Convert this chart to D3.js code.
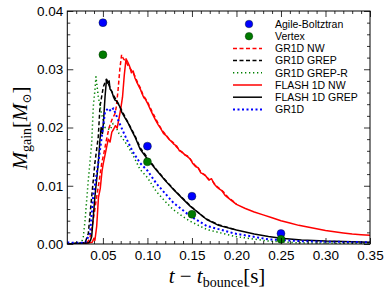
<!DOCTYPE html>
<html>
<head>
<meta charset="utf-8">
<script src="https://cdn.jsdelivr.net/npm/d3@7"></script>
<style>
  body { margin: 0; background: #fff; }
  svg { display: block; }
  .tick text { font-family: "Liberation Sans", Arial, sans-serif; font-size: 13.5px; fill: #000; }
  .leg text { font-family: "Liberation Sans", Arial, sans-serif; font-size: 10.5px; fill: #000; }
  .title { font-family: "Liberation Serif", "DejaVu Serif", serif; fill: #000; }
</style>
</head>
<body>
<figure id="chart" style="margin:0"></figure>
<script>
// t - t_bounce [s], M_gain [M_sun]
const agilePoints = [[0.05, 0.0380], [0.10, 0.0168], [0.15, 0.0082], [0.25, 0.0018]];
const vertexPoints = [[0.05, 0.0325], [0.10, 0.0141], [0.15, 0.0051], [0.25, 0.0008]];

const gr1dNW = [[0.010,0.0000],[0.032,0.0002],[0.035,0.0008],[0.0374,0.0024],[0.040,0.0050],[0.043,0.0081],
  [0.046,0.0110],[0.0487,0.0139],[0.051,0.0155],[0.054,0.0179],[0.057,0.0200],[0.060,0.0213],[0.0636,0.0224],
  [0.065,0.0235],[0.067,0.0264],[0.069,0.0300],[0.071,0.0325],[0.073,0.0318],[0.076,0.0313],[0.078,0.0307],
  [0.080,0.0303],[0.083,0.0296],[0.086,0.0288],[0.089,0.0277],[0.092,0.0268],[0.095,0.0256],[0.098,0.0249],
  [0.101,0.0241],[0.105,0.0228],[0.109,0.0216],[0.113,0.0204],[0.117,0.0194],[0.121,0.0187],[0.125,0.0179],
  [0.129,0.0174],[0.133,0.0166],[0.137,0.0160],[0.141,0.0154],[0.145,0.0151],[0.149,0.0144],[0.153,0.0136],
  [0.157,0.0130],[0.161,0.0122],[0.165,0.0118],[0.169,0.0111],[0.173,0.0108],[0.177,0.0100],[0.181,0.0095],
  [0.185,0.0090],[0.190,0.0081],[0.195,0.0075],[0.200,0.0069]];

const gr1dGREP = [[0.010,0.0000],[0.030,0.0002],[0.0336,0.0018],[0.0374,0.0081],[0.041,0.0139],[0.0448,0.0184],
  [0.0467,0.0236],[0.0505,0.0270],[0.054,0.0283],[0.056,0.0276],[0.058,0.0268],[0.062,0.0255],[0.067,0.0242],
  [0.075,0.0218],[0.086,0.0186],[0.092,0.0165],[0.100,0.0148],[0.110,0.0128],[0.120,0.0110],[0.130,0.0093],
  [0.140,0.0078],[0.150,0.0063],[0.165,0.0044],[0.180,0.0033],[0.200,0.0024]];

const gr1dGREPR = [[0.010,0.0001],[0.026,0.0002],[0.028,0.0013],[0.030,0.0041],[0.0336,0.0110],[0.0374,0.0173],
  [0.0392,0.0236],[0.041,0.0264],[0.0422,0.0287],[0.0448,0.0253],[0.0487,0.0222],[0.0524,0.0200],[0.058,0.0196],
  [0.0615,0.0207],[0.064,0.0203],[0.068,0.0190],[0.075,0.0175],[0.083,0.0155],[0.0917,0.0128],[0.100,0.0114],
  [0.110,0.0090],[0.120,0.0073],[0.129,0.0059],[0.140,0.0047],[0.148,0.0039],[0.1666,0.0025],[0.198,0.0013],
  [0.236,0.0005],[0.270,0.0002],[0.350,0.0001]];

const flashNW = [[0.010,0.0000],[0.030,0.0001],[0.038,0.0003],[0.040,0.0010],[0.041,0.0006],[0.043,0.0030],
  [0.045,0.0080],[0.047,0.0095],[0.049,0.0125],[0.0505,0.0139],[0.052,0.0150],[0.054,0.0165],[0.056,0.0180],
  [0.058,0.0175],[0.060,0.0192],[0.062,0.0197],[0.064,0.0203],[0.066,0.0199],[0.068,0.0215],[0.070,0.0232],
  [0.072,0.0252],[0.074,0.0290],[0.076,0.0318],[0.078,0.0312],[0.080,0.0305],[0.082,0.0294],[0.084,0.0297],
  [0.086,0.0285],[0.088,0.0278],[0.090,0.0272],[0.092,0.0266],[0.094,0.0258],[0.096,0.0251],[0.098,0.0248],
  [0.100,0.0242],[0.103,0.0232],[0.106,0.0222],[0.109,0.0213],[0.112,0.0205],[0.115,0.0198],[0.118,0.0190],
  [0.121,0.0186],[0.124,0.0180],[0.127,0.0176],[0.130,0.0171],[0.133,0.0168],[0.136,0.0160],[0.139,0.0158],
  [0.142,0.0153],[0.145,0.0150],[0.148,0.0146],[0.151,0.0138],[0.154,0.0133],[0.157,0.0131],[0.160,0.0122],
  [0.163,0.0120],[0.166,0.0116],[0.169,0.0110],[0.172,0.0112],[0.175,0.0103],[0.178,0.0098],[0.181,0.0094],
  [0.184,0.0091],[0.187,0.0084],[0.190,0.0080],[0.195,0.0074],[0.200,0.0068],[0.210,0.0061],[0.220,0.0055],
  [0.230,0.0050],[0.240,0.0045],[0.250,0.0040],[0.260,0.0036],[0.270,0.0032],[0.280,0.0029],[0.290,0.0026],
  [0.300,0.0023],[0.310,0.0021],[0.320,0.0019],[0.330,0.0017],[0.340,0.0016],[0.350,0.0015]];

const flashGREP = [[0.010,0.0000],[0.034,0.0002],[0.036,0.0006],[0.0374,0.0013],[0.041,0.0081],[0.0448,0.0139],
  [0.0467,0.0179],[0.048,0.0200],[0.0495,0.0190],[0.0505,0.0207],[0.0524,0.0253],[0.054,0.0282],[0.0555,0.0276],
  [0.057,0.0280],[0.058,0.0266],[0.060,0.0262],[0.062,0.0252],[0.0636,0.0247],[0.065,0.0246],[0.067,0.0241],
  [0.069,0.0236],[0.071,0.0227],[0.075,0.0216],[0.0785,0.0207],[0.082,0.0196],[0.086,0.0184],[0.0917,0.0163],
  [0.100,0.0146],[0.110,0.0127],[0.120,0.0109],[0.129,0.0094],[0.140,0.0077],[0.148,0.0065],[0.1666,0.0042],
  [0.180,0.0032],[0.200,0.0024],[0.220,0.0017],[0.236,0.0013],[0.250,0.0010],[0.273,0.0007],[0.300,0.0005],
  [0.350,0.0003]];

const gr1d = [[0.010,0.0003],[0.013,0.0002],[0.030,0.0002],[0.0355,0.0018],[0.039,0.0081],[0.0448,0.0139],
  [0.0487,0.0184],[0.0524,0.0227],[0.056,0.0233],[0.059,0.0228],[0.0617,0.0233],[0.064,0.0225],[0.067,0.0213],
  [0.0748,0.0186],[0.083,0.0160],[0.0917,0.0139],[0.100,0.0126],[0.110,0.0104],[0.129,0.0071],[0.148,0.0048],
  [0.1666,0.0031],[0.198,0.0018],[0.236,0.0008],[0.270,0.0005],[0.300,0.0004],[0.350,0.0003]];

const xMajor = [0.05, 0.10, 0.15, 0.20, 0.25, 0.30, 0.35];
const yMajor = [0.00, 0.01, 0.02, 0.03, 0.04];

const series = [
  { name: "GR1D NW", data: gr1dNW, color: "#ff0000", dash: "4,2.5", width: 1.5 },
  { name: "GR1D GREP", data: gr1dGREP, color: "#000000", dash: "4,2.5", width: 1.5 },
  { name: "GR1D GREP-R", data: gr1dGREPR, color: "#008000", dash: "1.3,2.7", width: 1.5 },
  { name: "FLASH 1D NW", data: flashNW, color: "#ff0000", dash: null, width: 1.5 },
  { name: "FLASH 1D GREP", data: flashGREP, color: "#000000", dash: null, width: 1.5 },
  { name: "GR1D", data: gr1d, color: "#0000ff", dash: "2,2.5", width: 2 }
];

const width = 390, height = 295;
const mLeft = 67.3, mRight = 370, mTop = 11, mBottom = 244;

const x = d3.scaleLinear().domain([0.01, 0.35]).range([mLeft, mRight]);
const y = d3.scaleLinear().domain([0, 0.04]).range([mBottom, mTop]);

const svg = d3.select("figure#chart").append("svg")
  .attr("width", width)
  .attr("height", height);

const plot = svg.append("g");
plot.append("clipPath").attr("id", "clip")
  .append("rect").attr("x", mLeft).attr("y", mTop).attr("width", mRight - mLeft).attr("height", mBottom - mTop);

// Lines
const line = d3.line().x(d => x(d[0])).y(d => y(d[1]));
plot.append("g").attr("clip-path", "url(#clip)")
  .selectAll("path")
  .data(series)
  .join("path")
  .attr("fill", "none")
  .attr("stroke", d => d.color)
  .attr("stroke-width", d => d.width)
  .attr("stroke-dasharray", d => d.dash)
  .attr("stroke-linejoin", "round")
  .attr("d", d => line(d.data));

// Points
const points = [
  { data: agilePoints, color: "#0000ff" },
  { data: vertexPoints, color: "#007a00" }
];
points.forEach(p => {
  plot.append("g").selectAll("circle")
    .data(p.data)
    .join("circle")
    .attr("cx", d => x(d[0]))
    .attr("cy", d => y(d[1]))
    .attr("r", 4)
    .attr("fill", p.color)
    .attr("stroke", "#002000")
    .attr("stroke-width", 0.4);
});

// Axes, ticks inward on all sides
const xMinor = d3.range(0.02, 0.351, 0.01).filter(v => !xMajor.some(m => Math.abs(m - v) < 1e-6));
const yMinor = d3.range(0.002, 0.04, 0.002).filter(v => !yMajor.some(m => Math.abs(m - v) < 1e-6));

function addAxis(axisFn, scale, transform, values, size, labels) {
  const g = svg.append("g")
    .attr("transform", transform)
    .call(axisFn(scale).tickValues(values).tickSize(size).tickPadding(labels ? 6 : 0)
      .tickFormat(labels ? d3.format(".2f") : ""));
  g.select(".domain").remove();
  g.selectAll(".tick line").attr("stroke", "#000").attr("stroke-width", 0.8);
  return g;
}
addAxis(d3.axisBottom, x, `translate(0,${mBottom})`, xMajor, -6, true);
addAxis(d3.axisBottom, x, `translate(0,${mBottom})`, xMinor, -3, false);
addAxis(d3.axisTop, x, `translate(0,${mTop})`, xMajor, -6, false);
addAxis(d3.axisTop, x, `translate(0,${mTop})`, xMinor, -3, false);
const yAxis = addAxis(d3.axisLeft, y, `translate(${mLeft},0)`, yMajor, -6, true);
yAxis.selectAll(".tick text").attr("x", -4);
addAxis(d3.axisLeft, y, `translate(${mLeft},0)`, yMinor, -3, false);
addAxis(d3.axisRight, y, `translate(${mRight},0)`, yMajor, -6, false);
addAxis(d3.axisRight, y, `translate(${mRight},0)`, yMinor, -3, false);

svg.append("rect")
  .attr("x", mLeft).attr("y", mTop)
  .attr("width", mRight - mLeft).attr("height", mBottom - mTop)
  .attr("fill", "none").attr("stroke", "#000").attr("stroke-width", 1);

// Legend
const legX = 233, legY = 24, legStep = 12.2;
const leg = svg.append("g").attr("class", "leg");
const legItems = [
  { name: "Agile-Boltztran", color: "#0000ff", dot: true },
  { name: "Vertex", color: "#007a00", dot: true }
].concat(series);
const item = leg.selectAll("g")
  .data(legItems)
  .join("g")
  .attr("transform", (d, i) => `translate(0,${legY + i * legStep})`);
item.filter(d => d.dot).append("circle")
  .attr("cx", legX + 16).attr("cy", 0).attr("r", 3.8)
  .attr("fill", d => d.color).attr("stroke", "#002000").attr("stroke-width", 0.4);
item.filter(d => !d.dot).append("line")
  .attr("x1", legX).attr("x2", legX + 29).attr("y1", 0).attr("y2", 0)
  .attr("stroke", d => d.color)
  .attr("stroke-width", d => d.width)
  .attr("stroke-dasharray", d => d.dash);
item.append("text")
  .attr("x", legX + 42).attr("y", 0).attr("dy", "0.36em")
  .text(d => d.name);

// Axis titles
const xt = svg.append("text").attr("class", "title")
  .attr("x", 217).attr("y", 283).attr("text-anchor", "middle").attr("font-size", 21);
xt.append("tspan").attr("font-style", "italic").text("t");
xt.append("tspan").text(" \u2212 ");
xt.append("tspan").attr("font-style", "italic").text("t");
xt.append("tspan").attr("font-size", 14).attr("dy", 4).text("bounce");
xt.append("tspan").attr("dy", -4).text("[s]");

const yt = svg.append("text").attr("class", "title")
  .attr("transform", "translate(27,128) rotate(-90)")
  .attr("text-anchor", "middle").attr("font-size", 21);
yt.append("tspan").attr("font-style", "italic").text("M");
yt.append("tspan").attr("font-size", 14).attr("dy", 4).text("gain");
yt.append("tspan").attr("dy", -4).text("[");
yt.append("tspan").attr("font-style", "italic").text("M");
yt.append("tspan").attr("font-size", 12).attr("dy", 4).text("\u2299");
yt.append("tspan").attr("dy", -4).text("]");
</script>
</body>
</html>
